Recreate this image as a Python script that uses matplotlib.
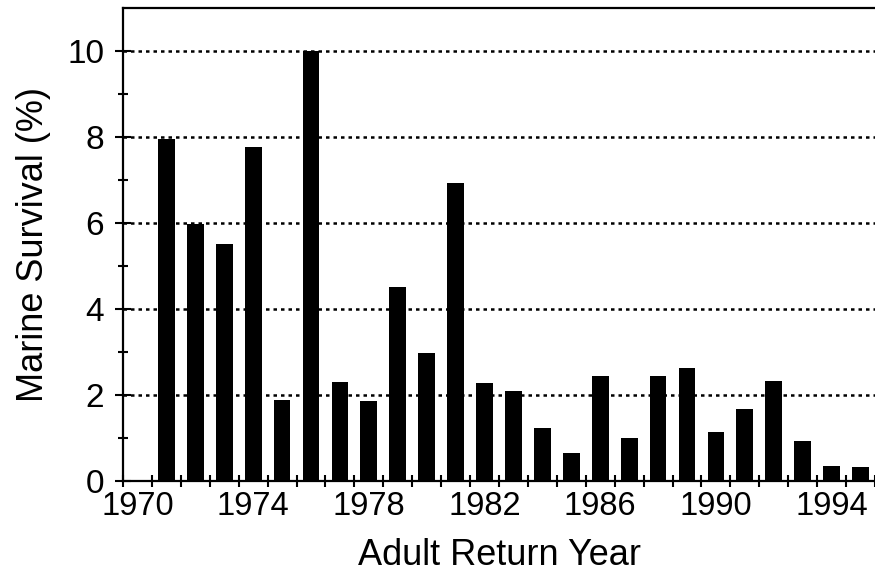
import numpy as np
import matplotlib
matplotlib.use("Agg")
import matplotlib.pyplot as plt

plt.rcParams['font.family'] = ['Liberation Sans', 'DejaVu Sans']

# Marine survival by adult return year
years = list(range(1971, 1996))
survival = [7.96, 5.97, 5.50, 7.77, 1.89, 10.0, 2.31, 1.87, 4.52, 2.97,
            6.92, 2.28, 2.09, 1.24, 0.64, 2.44, 0.99, 2.44, 2.62, 1.15,
            1.68, 2.32, 0.92, 0.35, 0.33]
label_years = [1970, 1974, 1978, 1982, 1986, 1990, 1994]

fig = plt.figure(figsize=(8.75, 5.75), dpi=100)
ax = fig.add_axes([0.1406, 0.1635, 0.8594, 0.8226])

ax.bar(years, survival, width=0.58, color='black', zorder=3)

ax.set_xlim(1969.5, 1995.5)
ax.set_ylim(0, 11)

# year labels centred in their category, tick marks at category boundaries
ax.set_xticks(label_years)
ax.set_xticks(np.arange(1969.5, 1996, 1), minor=True)
ax.tick_params(axis='x', which='major', length=0, pad=7, labelsize=23.5)
ax.tick_params(axis='x', which='minor', direction='inout', length=9, width=1.5)

ax.set_yticks([0, 2, 4, 6, 8, 10])
ax.set_yticks([1, 3, 5, 7, 9], minor=True)
ax.tick_params(axis='y', which='major', direction='inout', length=11, width=1.5,
               pad=8, labelsize=24)
ax.tick_params(axis='y', which='minor', direction='inout', length=7, width=1.5)

for v in [2, 4, 6, 8, 10]:
    ax.axhline(v, color='black', lw=1.8, linestyle=(0, (1.4, 1.6)), zorder=1)

ax.spines['right'].set_visible(False)
for s in ['left', 'bottom', 'top']:
    ax.spines[s].set_linewidth(1.6)

ax.set_xlabel('Adult Return Year', fontsize=26, labelpad=12)
ax.set_ylabel('Marine Survival (%)', fontsize=26, labelpad=12)

plt.savefig('out.png', dpi=100)
